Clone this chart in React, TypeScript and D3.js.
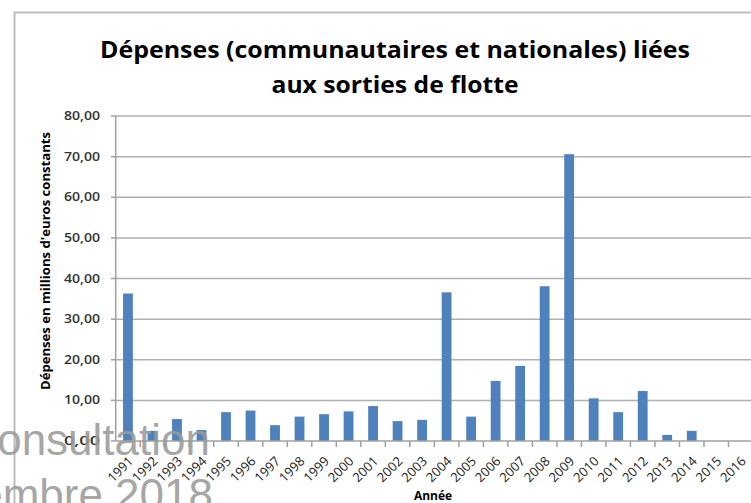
import React from "react";
import * as d3 from "d3";

const years = ["1991","1992","1993","1994","1995","1996","1997","1998","1999","2000","2001","2002","2003","2004","2005","2006","2007","2008","2009","2010","2011","2012","2013","2014","2015","2016"];
const spending = [36.3,2.5,5.4,2.7,7.1,7.5,3.9,6.0,6.6,7.3,8.6,4.9,5.2,36.6,6.0,14.8,18.5,38.1,70.6,10.5,7.1,12.3,1.5,2.5,0,0];
const yTicks = [0,10,20,30,40,50,60,70,80];
const titleLines = ["Dépenses (communautaires et nationales) liées", "aux sorties de flotte"];
const yTitle = "Dépenses en millions d'euros constants";
const xTitle = "Année";

const W = 751, H = 503;
const left = 115.7, right = 753, top = 116, bottom = 441;

export default function App() {
  const x = d3.scaleBand<string>().domain(years).range([left, right]).paddingInner(0.6).paddingOuter(0.3);
  const y = d3.scaleLinear().domain([0, 80]).range([bottom, top]);
  const step = x.step();
  const fmt = (v: number) => d3.format(".2f")(v).replace(".", ",");
  const font = "'Open Sans', 'DejaVu Sans', sans-serif";

  return (
    <svg width={W} height={H} style={{ position: "absolute", left: 0, top: 0, background: "#fff" }}>
      <rect x={0} y={0} width={W} height={H} fill="#fff" />
      {/* frame */}
      <rect x={14.5} y={12.5} width={W} height={H} fill="none" stroke="#bdbdbd" strokeWidth={2} />
      {/* title */}
      {titleLines.map((t, i) => (
        <text key={i} x={395} y={58 + i * 35} textAnchor="middle" fontFamily={font} fontWeight="bold" fontSize={23}
          textLength={i === 0 ? 590 : 247} lengthAdjust="spacingAndGlyphs" fill="#000">{t}</text>
      ))}
      {/* gridlines */}
      {yTicks.map((t) => (
        <g key={t}>
          {t > 0 && <line x1={left} x2={W} y1={y(t)} y2={y(t)} stroke="#b0b0b0" strokeWidth={1.5} />}
          <line x1={111} x2={left} y1={y(t)} y2={y(t)} stroke="#a0a0a0" strokeWidth={1.5} />
          <text x={100} y={y(t) + 4} textAnchor="end" fontFamily={font} fontWeight={600} fontSize={12.5}
            fill="#333" textLength={36} lengthAdjust="spacingAndGlyphs">{fmt(t)}</text>
        </g>
      ))}
      {/* bars */}
      {years.map((yr, i) => (
        <rect key={yr} x={x(yr)} y={y(spending[i])} width={x.bandwidth()} height={bottom - y(spending[i])} fill="#4F81BD" />
      ))}
      {/* axes */}
      <line x1={left} x2={left} y1={top} y2={bottom} stroke="#a0a0a0" strokeWidth={1.5} />
      <line x1={left} x2={W} y1={bottom} y2={bottom} stroke="#a0a0a0" strokeWidth={1.5} />
      {years.map((yr, i) => (
        <line key={"t" + yr} x1={left + (i + 1) * step} x2={left + (i + 1) * step} y1={bottom} y2={bottom + 6} stroke="#a0a0a0" strokeWidth={1.5} />
      ))}
      {years.map((yr) => {
        const cx = (x(yr) as number) + x.bandwidth() / 2 + 6;
        const cy = bottom + 21;
        return (
          <text key={"l" + yr} x={cx} y={cy} transform={`rotate(-45 ${cx} ${cy})`} textAnchor="end"
            fontFamily={font} fontSize={13} fill="#222">{yr}</text>
        );
      })}
      {/* axis titles */}
      <text x={433} y={500} textAnchor="middle" fontFamily={font} fontWeight="bold" fontSize={12} fill="#000">{xTitle}</text>
      <text transform={`translate(50 261) rotate(-90)`} textAnchor="middle" fontFamily={font} fontWeight="bold" fontSize={12}
        fill="#000" textLength={258} lengthAdjust="spacingAndGlyphs">{yTitle}</text>
      {/* watermark */}
      <g fontFamily="'Liberation Sans', Arial, sans-serif" fontSize={44} fill="#9a9a9a" fillOpacity={0.9} textAnchor="end">
        <text x={210} y={455}>consultation</text>
        <text x={213} y={510}>Décembre 2018</text>
      </g>
    </svg>
  );
}
